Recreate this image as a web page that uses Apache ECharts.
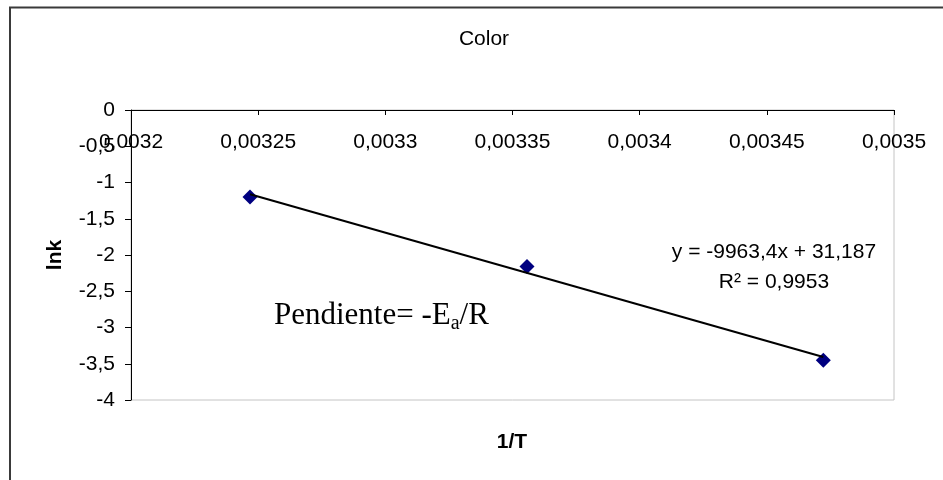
<!DOCTYPE html>
<html>
<head>
<meta charset="utf-8">
<script src="https://cdn.jsdelivr.net/npm/echarts@6/dist/echarts.min.js"></script>
<style>
  html, body { margin: 0; padding: 0; background: #fff; }
  #chart { width: 943px; height: 480px; }
</style>
</head>
<body>
<div id="chart"></div>
<script>
// Arrhenius plot: ln k against 1/T
const invT = [0.0032468, 0.0033557, 0.0034722];
const lnk = [-1.20, -2.16, -3.45];

// Linear fit reported on the chart
const slope = -9963.4;
const intercept = 31.187;
const rSquared = 0.9953;

const SANS = 'Liberation Sans, Arial, sans-serif';
const SERIF = 'Liberation Serif, Times New Roman, serif';

const comma = v => String(v).replace('.', ',');
const fmtX = v => comma(parseFloat(Number(v).toFixed(6)));
const fmtY = v => comma(parseFloat(Number(v).toFixed(2)));

const points = invT.map((x, i) => [x, lnk[i]]);
const xFirst = Math.min(...invT);
const xLast = Math.max(...invT);
const fitLine = [xFirst, xLast].map(x => [x, slope * x + intercept]);

const chart = echarts.init(document.getElementById('chart'), null, { renderer: 'canvas' });

chart.setOption({
  animation: false,
  backgroundColor: '#fff',
  grid: {
    left: 131, right: 49, top: 110, bottom: 80,
    show: true, borderColor: '#c4c4c4', borderWidth: 1
  },
  xAxis: {
    type: 'value',
    position: 'top',
    min: 0.0032, max: 0.0035, interval: 0.00005,
    axisLine: { show: true, onZero: false, lineStyle: { color: '#000', width: 1 } },
    axisTick: { show: true, inside: true, length: 5, lineStyle: { color: '#000' } },
    axisLabel: {
      inside: true, margin: 22, color: '#000',
      fontFamily: SANS, fontSize: 21,
      formatter: fmtX
    },
    splitLine: { show: false }
  },
  yAxis: {
    type: 'value',
    min: -4, max: 0, interval: 0.5,
    name: 'lnk',
    nameLocation: 'middle', nameGap: 65, nameRotate: 90,
    nameTextStyle: { color: '#000', fontFamily: SANS, fontSize: 21, fontWeight: 'bold' },
    axisLine: { show: true, onZero: false, lineStyle: { color: '#000', width: 1 } },
    axisTick: { show: true, inside: false, length: 6, lineStyle: { color: '#000' } },
    axisLabel: { margin: 16, color: '#000', fontFamily: SANS, fontSize: 21, formatter: fmtY },
    splitLine: { show: false }
  },
  series: [
    {
      type: 'scatter',
      data: points,
      symbol: 'diamond',
      symbolSize: 15,
      itemStyle: { color: '#000080', opacity: 1 },
      z: 2
    },
    {
      type: 'line',
      data: fitLine,
      symbol: 'none',
      lineStyle: { color: '#000', width: 2 },
      z: 3
    }
  ],
  graphic: [
    {
      type: 'rect',
      shape: { x: 10, y: 7.5, width: 1000, height: 600 },
      style: { fill: 'none', stroke: '#3a3a3a', lineWidth: 2 },
      silent: true
    },
    {
      type: 'text', x: 484, y: 39,
      style: { text: 'Color', font: '21px ' + SANS, fill: '#000', align: 'center', verticalAlign: 'middle' }
    },
    {
      type: 'text', x: 512, y: 442,
      style: { text: '1/T', font: 'bold 21px ' + SANS, fill: '#000', align: 'center', verticalAlign: 'middle' }
    },
    {
      type: 'text', x: 774, y: 252,
      style: {
        text: 'y = ' + comma(slope) + 'x + ' + comma(intercept),
        font: '21px ' + SANS, fill: '#000', align: 'center', verticalAlign: 'middle'
      }
    },
    {
      type: 'text', x: 774, y: 282,
      style: {
        text: 'R\u00B2 = ' + comma(rSquared),
        font: '21px ' + SANS, fill: '#000', align: 'center', verticalAlign: 'middle'
      }
    },
    {
      type: 'text', x: 274, y: 316,
      style: {
        text: '{m|Pendiente= -E}{s|a}{m|/R}',
        fill: '#000', align: 'left', verticalAlign: 'middle',
        rich: {
          m: { fontFamily: SERIF, fontSize: 31, lineHeight: 36, verticalAlign: 'middle', fill: '#000' },
          s: { fontFamily: SERIF, fontSize: 20, lineHeight: 20, verticalAlign: 'bottom', fill: '#000' }
        }
      }
    }
  ]
});
</script>
</body>
</html>
